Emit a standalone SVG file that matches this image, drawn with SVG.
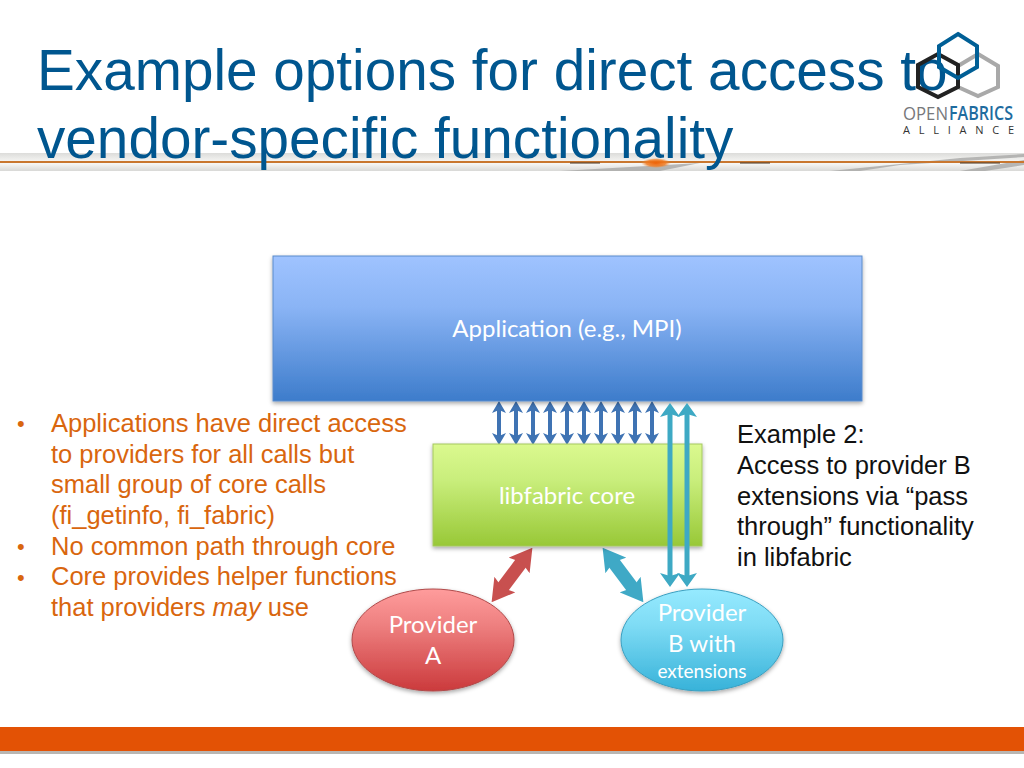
<svg xmlns="http://www.w3.org/2000/svg" width="1024" height="768" viewBox="0 0 1024 768">
<style>
.title{font:56.7px "Liberation Sans",Arial,sans-serif;fill:#00568f}
.body{font:25.5px "Liberation Sans",Arial,sans-serif}
.or{fill:#d9660e}
.blk{fill:#111}
.dot{font-size:22px}
.lbl{font:24px Lato,"Open Sans",sans-serif;fill:#fff;text-anchor:middle}
.bl{stroke:#3f73b3;stroke-width:4;fill:none;marker-start:url(#hb);marker-end:url(#hb)}
.te{stroke:#3ea9c4;stroke-width:5;fill:none;marker-start:url(#ht);marker-end:url(#ht)}
.hex{fill:none;stroke-width:4}
</style>
<defs>
<linearGradient id="gApp" x1="0" y1="0" x2="0" y2="1"><stop offset="0" stop-color="#9fc3ff"/><stop offset=".35" stop-color="#8ab4f5"/><stop offset="1" stop-color="#3d7ccb"/></linearGradient>
<linearGradient id="gCore" x1="0" y1="0" x2="0" y2="1"><stop offset="0" stop-color="#dbf98f"/><stop offset=".35" stop-color="#c9ee7c"/><stop offset="1" stop-color="#98c837"/></linearGradient>
<linearGradient id="gA" x1="0" y1="0" x2="0" y2="1"><stop offset="0" stop-color="#ff9c9c"/><stop offset=".35" stop-color="#ee8080"/><stop offset="1" stop-color="#cb3a3c"/></linearGradient>
<linearGradient id="gB" x1="0" y1="0" x2="0" y2="1"><stop offset="0" stop-color="#96eaff"/><stop offset=".35" stop-color="#7fdcf5"/><stop offset="1" stop-color="#37b2d9"/></linearGradient>
<linearGradient id="gBand" x1="0" y1="0" x2="0" y2="1"><stop offset="0" stop-color="#dcdcda"/><stop offset=".45" stop-color="#f4f4f2"/><stop offset=".6" stop-color="#f6f6f4"/><stop offset="1" stop-color="#d8d8d6"/></linearGradient>
<radialGradient id="gGlow"><stop offset="0" stop-color="#ee6208"/><stop offset=".65" stop-color="#f07a20" stop-opacity=".85"/><stop offset="1" stop-color="#f39040" stop-opacity="0"/></radialGradient>
<filter id="sh" x="-5%" y="-5%" width="110%" height="115%"><feDropShadow dx="0" dy="2" stdDeviation="2" flood-color="#000" flood-opacity=".35"/></filter>
<marker id="hb" markerUnits="userSpaceOnUse" viewBox="0 -7 12 14" refX="4" refY="0" markerWidth="12" markerHeight="14" orient="auto-start-reverse"><path d="M0-7L12 0L0 7L3 0Z" fill="#3f73b3"/></marker>
<marker id="ht" markerUnits="userSpaceOnUse" viewBox="0 -10 14 20" refX="4" refY="0" markerWidth="14" markerHeight="20" orient="auto-start-reverse"><path d="M0-10L14 0L0 10L3 0Z" fill="#3ea9c4"/></marker>
<marker id="hr" markerUnits="userSpaceOnUse" viewBox="0 -13 22 26" refX="8" refY="0" markerWidth="22" markerHeight="26" orient="auto-start-reverse"><path d="M0-13L22 0L0 13L4 0Z" fill="#c8504f"/></marker>
<marker id="hc" markerUnits="userSpaceOnUse" viewBox="0 -13 22 26" refX="8" refY="0" markerWidth="22" markerHeight="26" orient="auto-start-reverse"><path d="M0-13L22 0L0 13L4 0Z" fill="#3fa9c6"/></marker>
</defs>
<rect width="1024" height="768" fill="#fff"/>
<g id="header-band">
<rect x="0" y="153" width="1024" height="18" fill="url(#gBand)"/>
<path d="M560 171L700 163L660 171ZM830 171L960 158L1024 154L1024 157L900 165L860 171ZM960 171L1024 160L1024 165L985 171Z" fill="#a8a8a6" opacity=".8"/>
<rect x="0" y="161" width="1024" height="2" fill="#c9772f"/>
<path d="M570 163L600 163M740 163L770 163M960 163L1000 163" stroke="#4a3a2a" stroke-width="1.500" fill="none" opacity=".7"/>
<ellipse cx="656" cy="163" rx="15" ry="5" fill="url(#gGlow)"/>
</g>
<g id="title">
<text class="title" x="37" y="90">Example options for direct access to</text>
<text class="title" x="37" y="158">vendor-specific functionality</text>
</g>
<g id="logo">
<path class="hex" stroke="#a9a9a9" d="M978 54L998 66L998 87L978 96L958 87L958 66Z"/>
<path class="hex" stroke="#222" d="M938 54L958 65L958 87L938 97L918 87L918 65Z"/>
<path class="hex" stroke="#005f96" d="M958 34L977 46L977 67L958 78L939 67L939 46Z"/>
<text x="903" y="120" font-family="'Open Sans',sans-serif" font-size="19" textLength="45" lengthAdjust="spacingAndGlyphs" fill="#77787b">OPEN</text>
<text x="949" y="120" font-family="'Open Sans',sans-serif" font-size="19" textLength="64" lengthAdjust="spacingAndGlyphs" fill="#1f6c9f" font-weight="600">FABRICS</text>
<text x="903" y="134" font-family="'Open Sans',sans-serif" font-size="11" fill="#333" textLength="111">ALLIANCE</text>
</g>
<g id="connectors">
<line class="bl" x1="499" y1="409" x2="499" y2="437"/><line class="bl" x1="516" y1="409" x2="516" y2="437"/><line class="bl" x1="533" y1="409" x2="533" y2="437"/><line class="bl" x1="550" y1="409" x2="550" y2="437"/><line class="bl" x1="567" y1="409" x2="567" y2="437"/><line class="bl" x1="584" y1="409" x2="584" y2="437"/><line class="bl" x1="601" y1="409" x2="601" y2="437"/><line class="bl" x1="618" y1="409" x2="618" y2="437"/><line class="bl" x1="635" y1="409" x2="635" y2="437"/><line class="bl" x1="652" y1="409" x2="652" y2="437"/>
<line x1="524" y1="559" x2="500" y2="591" stroke="#c8504f" stroke-width="13" marker-start="url(#hr)" marker-end="url(#hr)"/>
<line x1="611" y1="559" x2="635" y2="591" stroke="#3fa9c6" stroke-width="13" marker-start="url(#hc)" marker-end="url(#hc)"/>
</g>
<g id="application"><rect x="273" y="256" width="589" height="145" fill="url(#gApp)" stroke="#5b8ccb" stroke-width="1" filter="url(#sh)"/><text class="lbl" x="567" y="337">Application (e.g., MPI)</text></g>
<g id="libfabric-core"><rect x="433" y="444" width="269" height="102" fill="url(#gCore)" stroke="#a5c860" stroke-width="1" filter="url(#sh)"/><text class="lbl" x="567" y="504">libfabric core</text></g>
<g id="connectors-pass-through">
<line class="te" x1="670" y1="413" x2="670" y2="577"/><line class="te" x1="687" y1="413" x2="687" y2="577"/>
</g>
<g id="provider-a"><ellipse cx="433" cy="640" rx="81" ry="51" fill="url(#gA)" stroke="#b04a4a" stroke-width="1" filter="url(#sh)"/><text class="lbl" x="433" y="633">Provider</text><text class="lbl" x="433" y="664">A</text></g>
<g id="provider-b"><ellipse cx="702" cy="640" rx="81" ry="51" fill="url(#gB)" stroke="#3a9fc0" stroke-width="1" filter="url(#sh)"/><text class="lbl" x="702" y="621">Provider</text><text class="lbl" x="702" y="652">B with</text><text class="lbl" x="702" y="678" style="font-size:19px">extensions</text></g>
<g id="bullets">
<text class="body or dot" x="17" y="431">•</text><text class="body or" x="51" y="432">Applications have direct access</text>
<text class="body or" x="51" y="462.700">to providers for all calls but</text>
<text class="body or" x="51" y="493.400">small group of core calls</text>
<text class="body or" x="51" y="524">(fi_getinfo, fi_fabric)</text>
<text class="body or dot" x="17" y="554">•</text><text class="body or" x="51" y="554.700">No common path through core</text>
<text class="body or dot" x="17" y="585">•</text><text class="body or" x="51" y="585.400">Core provides helper functions</text>
<text class="body or" x="51" y="616">that providers <tspan font-style="italic">may</tspan> use</text>
</g>
<g id="example">
<text class="body blk" x="737" y="443">Example 2:</text>
<text class="body blk" x="737" y="474">Access to provider B</text>
<text class="body blk" x="737" y="505">extensions via “pass</text>
<text class="body blk" x="737" y="535">through” functionality</text>
<text class="body blk" x="737" y="566">in libfabric</text>
</g>
<g id="footer"><rect x="0" y="727" width="1024" height="24" fill="#e35205"/><rect x="0" y="751" width="1024" height="3" fill="#b9b6b2"/></g>
</svg>
